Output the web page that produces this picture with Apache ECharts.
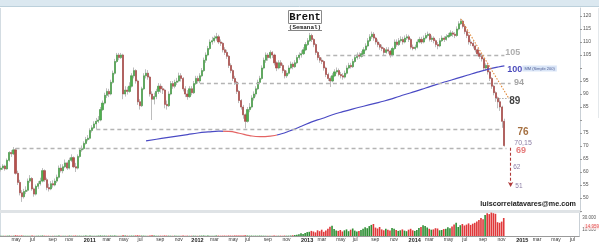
<!DOCTYPE html>
<html><head><meta charset="utf-8">
<script src="https://cdn.jsdelivr.net/npm/echarts@6/dist/echarts.min.js"></script>
<style>html,body{margin:0;padding:0;background:#fff}#c{width:599px;height:243px}</style>
</head><body><div id="c"></div><script>
// ---- data (weekly, starting week of 29 Mar 2010) ----
const firstOpen = 61.0;
const closes = [
61.5,62.3,61.2,64.5,67.5,67.0,68.5,59.5,56.0,52.0,
50.5,52.5,53.0,56.5,57.5,53.5,51.5,54.5,55.5,56.5,
60.5,57.0,54.0,53.5,55.5,55.0,56.5,58.0,61.5,60.5,
62.0,63.5,61.5,64.5,65.5,62.0,61.5,66.0,68.5,69.0,
71.0,72.5,73.0,76.0,77.0,78.5,79.5,80.0,84.0,86.5,
89.5,91.0,90.0,94.5,98.0,102.5,105.0,104.0,105.0,90.0,
91.5,91.0,93.0,97.0,99.0,95.0,87.0,85.5,92.0,97.0,
98.0,96.5,90.0,88.0,89.0,91.0,93.0,92.0,91.5,86.0,
85.5,90.0,94.0,93.0,94.5,95.0,97.0,96.0,92.0,90.0,
89.0,92.0,90.5,94.0,96.0,95.0,97.0,99.0,103.0,105.0,
107.5,110.0,110.5,111.5,112.0,110.0,109.5,107.0,106.0,104.5,
101.0,99.0,96.0,94.5,91.0,87.5,85.0,82.0,79.5,84.0,
85.0,88.5,90.0,92.0,94.5,96.0,100.0,103.0,105.0,104.0,
106.0,105.0,102.0,100.0,102.0,101.0,99.0,97.0,98.0,100.0,
101.5,100.5,102.0,104.0,105.0,105.5,107.0,109.0,110.5,112.5,
111.0,109.0,106.0,104.0,103.0,102.5,100.0,97.5,96.0,95.0,
97.0,98.5,99.0,97.5,97.0,96.5,98.0,100.0,101.0,100.5,
102.5,104.0,105.0,104.5,105.5,107.0,108.5,110.5,112.0,113.0,
111.5,110.0,109.0,108.0,107.5,106.0,107.0,106.5,105.0,107.5,
110.0,109.0,110.5,111.0,110.0,111.5,112.0,111.0,108.0,107.5,
108.0,110.0,111.0,110.0,111.5,112.5,113.0,111.0,111.5,110.5,
109.0,108.5,110.5,111.5,111.0,112.0,112.5,113.5,113.0,112.5,
115.0,117.0,118.0,116.0,114.0,112.5,110.0,109.5,108.5,107.0,
105.5,104.5,103.5,100.0,101.0,98.5,96.0,93.0,90.5,88.5,
87.0,85.0,79.5,70.15];
const highs = [
62.3,63.0,62.8,65.2,68.0,68.4,69.6,69.2,60.5,57.0,
53.0,53.5,54.5,57.5,58.8,58.0,54.0,55.2,56.5,57.8,
61.5,61.0,57.8,55.5,56.5,56.8,57.5,59.0,62.5,63.0,
63.0,64.8,64.0,65.5,66.8,66.0,63.5,66.8,69.2,70.2,
71.8,73.5,74.2,76.8,78.0,79.5,80.8,81.5,85.0,87.5,
90.5,92.2,92.0,95.5,99.0,103.5,105.8,105.8,105.8,105.5,
93.0,92.8,94.5,98.0,100.2,99.5,95.5,88.0,92.8,98.0,
99.5,99.2,97.0,91.0,90.5,92.0,94.2,94.0,93.0,92.0,
87.5,91.0,95.0,95.0,95.5,96.2,98.2,98.0,96.5,93.0,
91.5,93.0,93.0,95.0,97.0,97.0,98.0,100.0,104.0,106.0,
108.5,111.0,112.0,112.5,113.5,112.8,111.0,110.0,108.0,107.0,
105.0,101.8,99.5,97.0,95.0,91.5,88.0,85.8,82.5,85.0,
86.5,89.5,91.0,93.0,95.5,97.0,101.0,104.0,106.0,105.8,
106.8,106.5,105.5,102.5,103.0,103.0,101.8,99.5,99.0,101.0,
102.5,102.2,103.0,105.0,106.0,106.8,108.0,110.0,111.5,113.5,
113.2,111.5,109.5,106.5,105.0,104.0,103.0,100.5,98.2,96.8,
98.0,99.5,100.2,99.8,98.5,98.0,99.0,101.0,102.0,102.0,
103.5,105.0,106.0,106.0,106.5,108.0,109.5,111.5,113.0,114.0,
113.8,112.0,111.0,109.8,109.0,108.0,108.0,108.0,107.0,108.2,
111.0,111.0,111.5,112.2,112.0,112.5,113.0,112.8,111.5,109.0,
109.0,111.0,112.0,112.0,112.5,113.5,114.0,113.5,112.5,112.2,
111.0,110.0,111.5,112.5,112.2,113.0,113.5,114.5,114.2,113.8,
116.0,118.0,119.0,118.5,116.5,114.5,113.0,111.0,110.5,109.0,
107.5,106.0,105.5,104.0,101.8,101.5,99.0,96.5,93.5,91.0,
89.0,88.0,85.5,80.5];
const lows = [
60.2,60.8,60.5,60.9,64.0,65.8,66.5,59.0,55.0,51.0,
48.5,49.8,51.5,52.5,55.8,52.8,50.5,51.0,53.5,54.8,
56.0,56.2,53.0,52.5,53.0,54.0,54.5,55.8,57.5,59.8,
59.5,61.5,60.8,61.0,63.8,61.5,60.0,61.0,65.5,67.8,
68.5,70.5,71.8,72.5,75.2,76.5,76.5,78.8,79.5,83.5,
86.0,88.5,88.8,89.5,94.0,97.5,102.0,103.0,103.5,88.0,
89.0,89.8,90.5,92.5,96.0,94.0,85.8,84.0,85.0,91.5,
96.0,95.5,89.0,80.0,86.0,88.0,90.0,90.5,90.0,84.5,
84.0,85.0,89.5,92.0,92.2,93.5,94.5,94.8,91.0,88.8,
87.8,88.5,89.5,90.0,93.5,94.0,94.2,96.5,98.5,102.0,
104.5,107.0,109.0,109.8,110.5,109.2,108.5,106.0,105.0,103.5,
100.0,98.0,95.0,93.5,90.0,86.5,84.0,80.5,76.8,79.0,
83.0,84.5,87.5,89.0,91.5,93.8,95.5,99.5,102.0,102.8,
103.5,103.8,101.0,98.8,99.5,100.0,98.0,96.0,96.2,97.5,
99.5,99.5,100.0,101.5,103.2,104.0,105.0,106.5,108.5,110.0,
110.0,108.0,105.0,103.0,102.0,101.5,99.0,96.5,95.0,92.7,
94.5,96.5,97.8,96.8,96.0,95.5,96.0,97.5,99.5,99.8,
100.0,102.0,103.2,103.5,104.0,105.0,106.5,108.0,110.0,111.2,
110.5,109.0,108.0,107.0,106.5,105.0,105.5,105.5,104.0,104.5,
107.0,108.2,108.5,109.8,109.0,109.5,110.8,110.0,107.2,106.8,
106.8,107.5,109.5,109.2,109.5,111.0,111.8,110.2,110.0,109.5,
108.0,107.2,108.0,110.0,110.0,110.5,111.5,112.0,112.0,111.5,
112.0,114.5,116.5,115.2,113.0,111.5,109.0,108.5,107.5,106.0,
104.5,103.5,102.5,99.2,99.0,97.5,95.0,92.0,89.5,87.0,
84.5,83.5,77.0,69.8];
// volume, thousands of contracts
const volumes = [
0.4,0.6,0.3,0.5,0.7,0.4,0.5,1.2,0.8,0.6,
0.9,0.5,0.4,0.6,0.3,0.7,0.5,0.4,0.6,0.5,
0.8,0.6,0.4,0.5,0.3,0.4,0.6,0.5,0.7,0.4,
0.5,0.6,0.4,0.7,0.5,0.6,0.8,0.5,0.6,0.4,
0.5,0.7,0.6,0.8,0.5,0.6,0.4,0.7,0.9,0.6,
0.7,0.5,0.6,0.8,0.6,0.7,0.5,0.6,0.4,1.4,
0.8,0.6,0.5,0.7,0.6,0.9,1.2,0.8,0.7,0.6,
0.5,0.6,1.0,1.3,0.7,0.6,0.5,0.6,0.5,0.9,
0.7,0.6,0.5,0.4,0.6,0.5,0.4,0.6,0.7,0.5,
0.6,0.4,0.5,0.6,0.5,0.4,0.6,0.7,0.8,0.6,
0.7,0.6,0.5,0.6,0.8,0.7,0.5,0.6,0.7,0.5,
0.8,0.7,0.6,0.9,0.8,1.0,0.7,0.9,1.1,0.8,
0.6,0.7,0.5,0.6,0.5,0.7,0.6,0.5,0.6,0.4,
0.6,0.5,0.7,0.6,0.5,0.6,0.4,0.7,0.5,0.6,
0.8,1.2,1.6,2.2,3.0,4.5,3.5,5.0,6.5,7.0,
8.5,7.5,6.0,9.5,8.0,10.5,7.0,9.0,12.0,15.5,
17.0,11.5,9.0,8.5,10.0,7.5,9.5,11.0,8.0,10.5,
12.5,9.0,7.5,8.5,10.0,12.0,14.5,13.0,16.5,18.5,
20.0,14.0,12.5,15.0,11.0,9.5,12.0,10.5,9.0,13.5,
12.0,10.0,8.5,9.5,11.0,9.0,8.0,10.5,12.0,9.5,
8.5,10.0,13.5,15.0,18.0,16.5,14.0,12.0,10.5,11.0,
13.0,12.5,9.5,10.0,11.5,12.0,14.5,13.0,16.0,19.0,
22.0,15.0,18.0,20.0,17.5,19.0,21.0,18.5,20.5,22.0,
24.0,26.5,30.0,28.0,35.0,38.0,36.5,39.0,38.0,37.0,
23.0,22.0,24.0,30.0];
const volumeTagValue = 14.959, volumeTagText = '14.959';
// 200 moving average, sampled weeks
const maWeeks  = [70,75,80,85,90,95,100,105,110,115,120,125,130,135,140,145,150,155,160,165,170,175,180,185,190,195,200,205,210,215,220,225,230,235,240,243];
const maValues = [72.0,72.6,73.2,73.8,74.4,75.0,75.4,75.7,75.6,74.9,74.0,73.6,73.8,74.6,76.0,77.6,79.3,80.6,82.0,83.2,84.3,85.3,86.3,87.3,88.5,89.8,91.0,92.3,93.6,94.8,96.0,97.2,98.4,99.5,100.4,100.8];
const maFallFrom = 107, maFallTo = 133;
// horizontal support / resistance levels
const levelValues = [69.3, 76.5, 94.0, 104.9];
const levelFrom   = [7, 46, 96, 157];
const levelTo     = [244, 242, 246, 243];
const trendFrom = [222, 118.8], trendTo = [245, 88.5];
const shortLevel = 88.5, shortFrom = 239, shortTo = 245;
const targetWeek = 246, targetFrom = 69.3, targetTo = 54.2;
const monthAbbr = ['jan','feb','mar','apr','may','jun','jul','aug','sep','oct','nov','dec'];
const nWeeks = 280;

// ---- build ----
const startMs = Date.UTC(2010, 2, 29);
function wd(i){ return new Date(startMs + i*7*86400000); }
const cats = [];
for (let i=0;i<nWeeks;i++){ const d=wd(i); cats.push(d.toISOString().slice(0,10)); }
function labelFor(i){
  if (i===0) return '';
  const d=wd(i), p=wd(i-1), m=d.getUTCMonth();
  if (m===p.getUTCMonth() || m%2!==0) return '';
  return m===0 ? '{y|'+d.getUTCFullYear()+'}' : monthAbbr[m];
}
const opens = closes.map((c,i)=> i===0 ? firstOpen : closes[i-1]);
const wickData = closes.map((c,i)=>[opens[i], c, lows[i], highs[i]]);
const bodyData = closes.map((c,i)=>[opens[i], c, Math.min(opens[i],c), Math.max(opens[i],c)]);
const maData = new Array(nWeeks).fill(null);
maWeeks.forEach((w,i)=>{ maData[w]=maValues[i]; });
const volData = volumes.map((v,i)=>({value:v, itemStyle:{color: closes[i]>=opens[i] ? '#2f8f35' : '#e0383a'}}));

const levelLines = levelValues.map((v,i)=>[
  {coord:[levelFrom[i], v], lineStyle:{color:'#b4b4b4', type:[4,3], width:1.3}},
  {coord:[levelTo[i], v]}]);
levelLines.push([{coord:trendFrom, lineStyle:{color:'#e08a3c', type:[1.5,1.5], width:1.1}},{coord:trendTo}]);
levelLines.push([{coord:[shortFrom, shortLevel], lineStyle:{color:'#aaa', type:[1.5,1.5], width:1}},{coord:[shortTo, shortLevel]}]);
levelLines.push([{coord:[targetWeek, targetFrom], symbol:'none', lineStyle:{color:'#b03a3a', type:[3,2], width:1.1}},
  {coord:[targetWeek, targetTo], symbol:'arrow', symbolSize:[4,5]}]);

const F = 'Liberation Sans';
function ann(text, idx, val, color, size, bold){
  return {value:[idx,val], label:{show:true, position:'inside', formatter:text, color:color,
    fontSize:size, fontWeight: bold?'bold':'normal', fontFamily:F}};
}
const annotations = [
  ann('105', 247, 105.8, '#9a9a9a', 9, true),
  ann('100', 248, 99.6, '#1c1caa', 9, true),
  ann('94', 250, 94.6, '#8f8f8f', 9, true),
  ann('89', 248, 87.3, '#111', 10, true),
  ann('76', 252, 75.2, '#8e4c12', 10, true),
  ann('70,15', 252, 71.2, '#6b5a8c', 7, false),
  ann('69', 251, 68.1, '#e05a5a', 9, true),
  ann('62', 249, 61.9, '#6b5a8c', 6.5, false),
  ann('51', 250, 54.6, '#6b5a8c', 6.5, false)
];
annotations.push({value:[260, 99.8], label:{show:true, position:'inside', formatter:'MM (Simple 200)', color:'#2b3a7a',
  fontSize:4, fontFamily:F, backgroundColor:'#cfdff5', padding:[1,2]}});

const chart = echarts.init(document.getElementById('c'), null, {renderer:'canvas'});
chart.setOption({
  animation:false,
  backgroundColor:'#fff',
  grid:[{left:0,right:19,top:8,bottom:32},{left:0,right:19,top:212,bottom:7}],
  xAxis:[
    {type:'category', data:cats, gridIndex:0, boundaryGap:true,
     axisLine:{show:true, lineStyle:{color:'#dfe3e6', width:3}}, axisTick:{show:false}, axisLabel:{show:false}, splitLine:{show:false}},
    {type:'category', data:cats, gridIndex:1, boundaryGap:true,
     axisLine:{show:true, lineStyle:{color:'#9a9a9a', width:1}}, axisTick:{show:false},
     axisLabel:{show:true, interval:(idx)=>labelFor(idx)!=='', formatter:(v,idx)=>labelFor(idx),
       align:'left', margin:1, fontSize:5, color:'#333', fontFamily:F,
       rich:{y:{fontSize:5.5, fontWeight:'bold', color:'#222', fontFamily:F}}},
     splitLine:{show:false}}
  ],
  yAxis:[
    {type:'value', gridIndex:0, position:'right', min:45, max:123.08, interval:5,
     axisLine:{show:true, lineStyle:{color:'#c9d0d6'}}, axisTick:{show:true, length:2, lineStyle:{color:'#999'}},
     axisLabel:{fontSize:5, color:'#555', margin:3, fontFamily:F, showMaxLabel:false,
       formatter:(v)=> (v===45||v===80||v===100||v%5!==0) ? '' : String(v)},
     splitLine:{show:false}},
    {type:'value', gridIndex:1, position:'right', min:0, max:40, interval:10,
     axisLine:{show:true, lineStyle:{color:'#c9d0d6'}}, axisTick:{show:false},
     axisLabel:{fontSize:4.5, color:'#555', margin:3, fontFamily:F,
       formatter:(v)=> (v===10||v===30) ? v+'.000' : ''},
     splitLine:{show:false}}
  ],
  visualMap:[{type:'piecewise', show:false, dimension:0, seriesIndex:2,
    pieces:[{lt:maFallFrom, color:'#4a4ac4'},{gte:maFallFrom, lte:maFallTo, color:'#e46464'},{gt:maFallTo, color:'#4a4ac4'}]}],
  series:[
    {type:'candlestick', name:'wick', xAxisIndex:0, yAxisIndex:0, data:wickData, barWidth:1.6,
     itemStyle:{color:'#c4c4c4', color0:'#c4c4c4', borderColor:'#bdbdbd', borderColor0:'#bdbdbd', borderWidth:1},
     markLine:{silent:true, symbol:['none','none'], label:{show:false}, data:levelLines}},
    {type:'candlestick', name:'body', xAxisIndex:0, yAxisIndex:0, data:bodyData, barWidth:1.6,
     itemStyle:{color:'#4fb04f', color0:'#b8504c', borderColor:'#3e9a3e', borderColor0:'#a8403e', borderWidth:0.5}},
    {type:'line', name:'MM (Simple 200)', xAxisIndex:0, yAxisIndex:0, data:maData, connectNulls:true, smooth:true,
     showSymbol:false, lineStyle:{width:1.2}},
    {type:'scatter', xAxisIndex:0, yAxisIndex:0, symbolSize:0, silent:true, data:annotations, z:5},
    {type:'bar', xAxisIndex:1, yAxisIndex:1, data:volData, barWidth:'78%'},
    {type:'scatter', xAxisIndex:1, yAxisIndex:1, symbolSize:0, silent:true, clip:false, z:6,
     data:[{value:[nWeeks-1, volumeTagValue], label:{show:true, position:'right', distance:6, formatter:volumeTagText,
       color:'#e03030', fontSize:4.5, backgroundColor:'#fde4e4', padding:[0,1], fontFamily:F}}]}
  ],
  graphic:[
    {type:'rect', shape:{x:0,y:0,width:599,height:6}, style:{fill:'#dbe8f0'}, silent:true},
    {type:'line', shape:{x1:0,y1:6.5,x2:599,y2:6.5}, style:{stroke:'#bcd0db', lineWidth:1}, silent:true},
    {type:'line', shape:{x1:0.5,y1:8,x2:0.5,y2:236}, style:{stroke:'#d3dce2', lineWidth:1}, silent:true},
    {type:'line', shape:{x1:598.5,y1:8,x2:598.5,y2:118}, style:{stroke:'#e4e8eb', lineWidth:1}, silent:true},
    {type:'rect', shape:{x:288.5,y:10.5,width:33,height:13}, style:{fill:'#fff', stroke:'#8a8a8a', lineWidth:1}, silent:true},
    {type:'text', x:305, y:17.5, style:{text:'Brent', font:'bold 10.5px "Liberation Mono"', fill:'#111', textAlign:'center', textVerticalAlign:'middle'}, silent:true},
    {type:'text', x:305, y:27.5, style:{text:'(Semanal)', font:'bold 6px "Liberation Mono"', fill:'#222', textAlign:'center', textVerticalAlign:'middle'}, silent:true},
    {type:'line', shape:{x1:288,y1:30.5,x2:322,y2:30.5}, style:{stroke:'#333', lineWidth:0.6}, silent:true},
    {type:'text', x:576, y:204, style:{text:'luiscorreiatavares@me.com', font:'bold 7.2px "Liberation Sans"', fill:'#1a1a1a', textAlign:'right', textVerticalAlign:'middle'}, silent:true}
  ]
});
</script></body></html>
